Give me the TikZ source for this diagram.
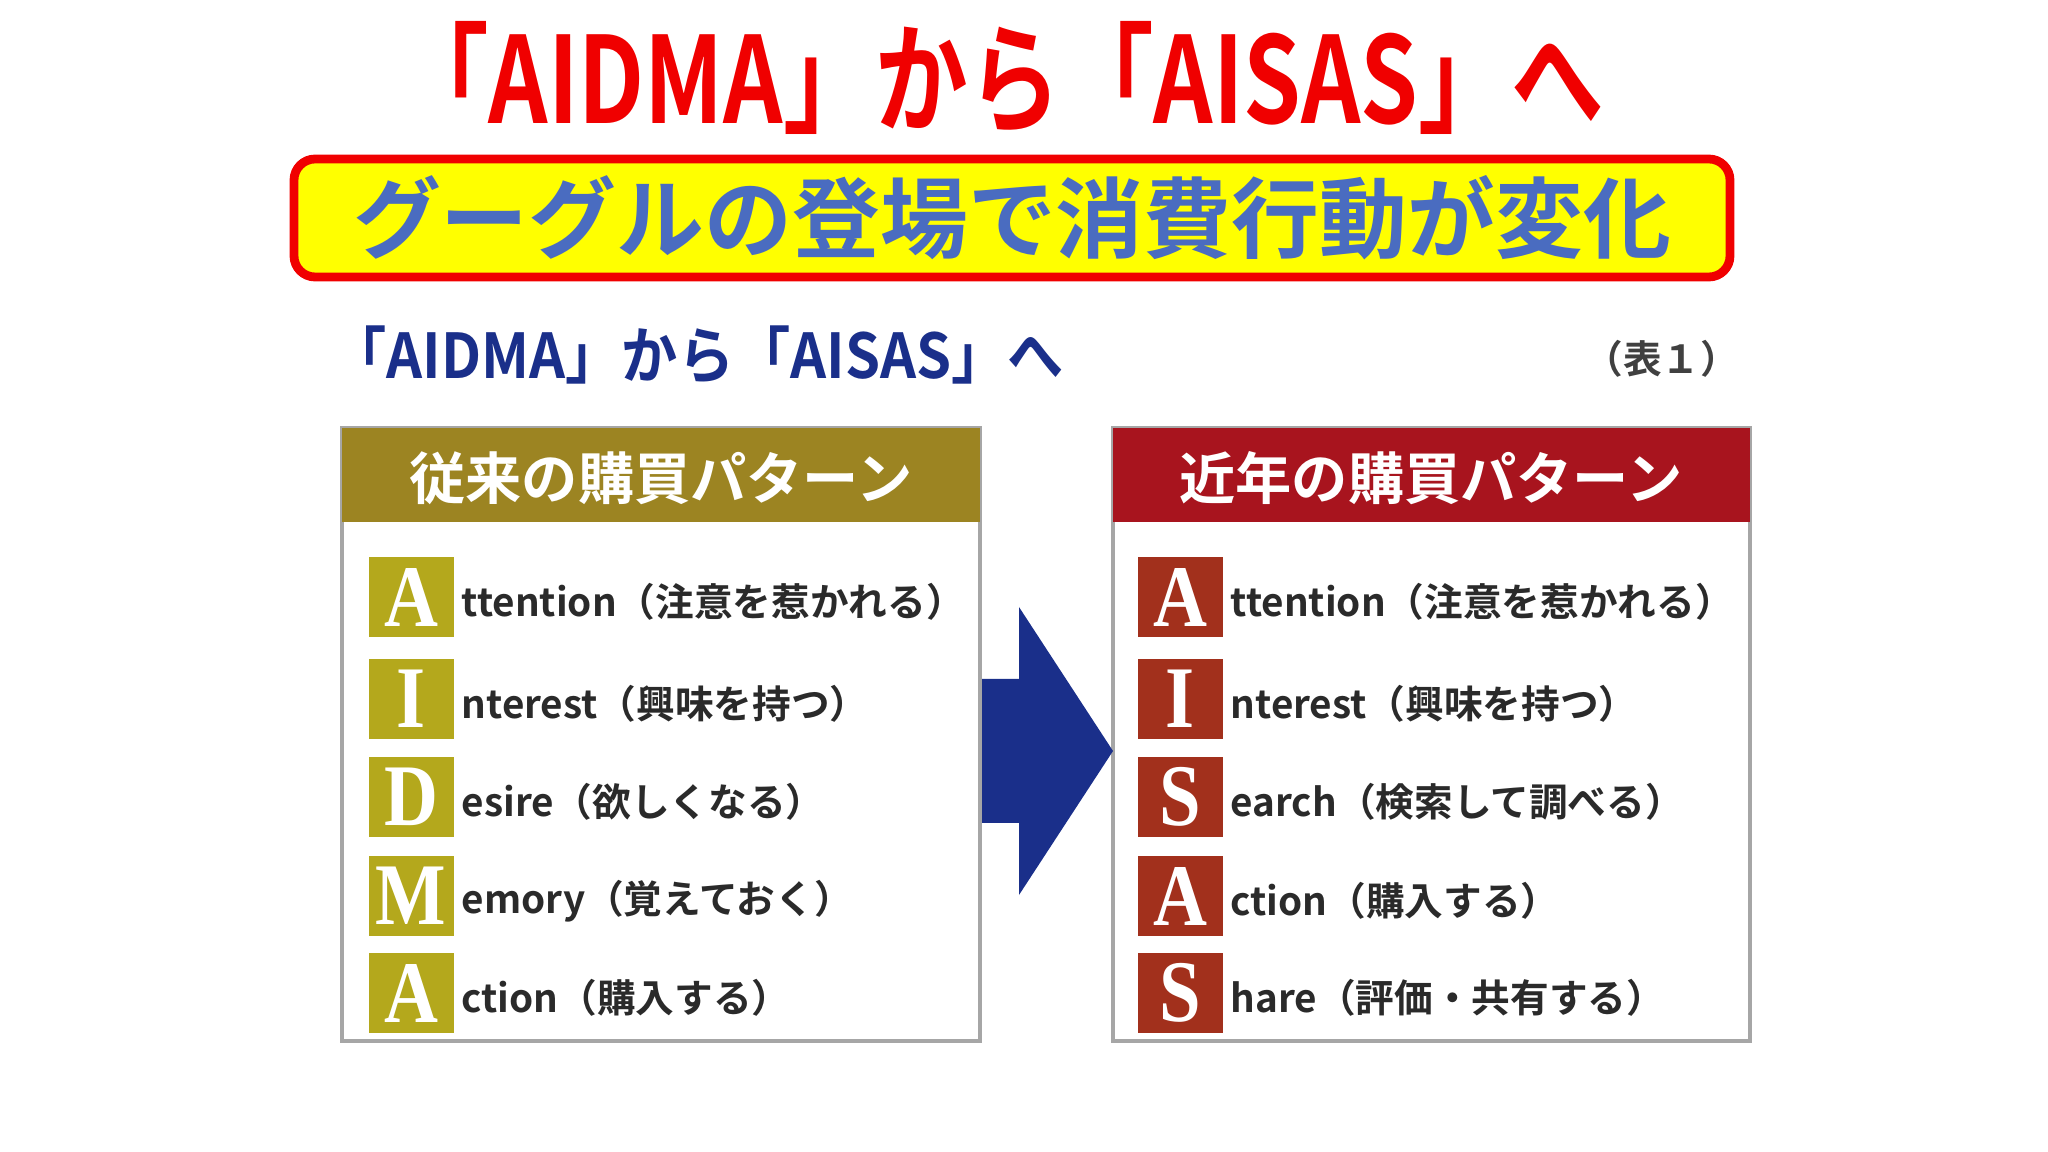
\documentclass[tikz,border=0pt]{standalone}
\usepackage{fontspec}
\setmainfont{Noto Sans CJK JP}[BoldFont={* Bold}]
\newfontfamily\lserif{Liberation Serif}
\definecolor{ttlred}{HTML}{F00000}
\definecolor{ylw}{HTML}{FFFF00}
\definecolor{bluet}{HTML}{4A6CC0}
\definecolor{navy}{HTML}{1A2F8A}
\definecolor{olivehd}{HTML}{9C8422}
\definecolor{oliveL}{HTML}{B4A81C}
\definecolor{redhd}{HTML}{A8141E}
\definecolor{redL}{HTML}{A2301C}
\definecolor{itemtx}{HTML}{2A2A2A}
\tikzset{
 panel/.style={draw=black!35, line width=1.2pt, fill=white},
 hdr/.style={text=white, font=\bfseries\fontsize{16}{16}\selectfont},
 letbox/.style={minimum width=0.85cm, minimum height=0.8cm, inner sep=0pt, text=white, font=\lserif\bfseries\fontsize{25}{25}\selectfont},
 item/.style={anchor=west, text=itemtx, font=\bfseries\fontsize{11}{12}\selectfont, inner sep=0pt}
}
\begin{document}
\begin{tikzpicture}[x=1cm,y=-1cm]
\useasboundingbox (0,0) rectangle (20.48,11.52);
\node (title) at (10.0,0.78) {\textcolor{ttlred}{\bfseries\fontsize{31}{31}\selectfont\scalebox{0.85}[1.1]{「AIDMA」から「AISAS」へ}}};
\node[draw=ttlred, line width=2.5pt, fill=ylw, rounded corners=6pt, minimum width=14.36cm, minimum height=1.18cm, text=bluet, font=\bfseries\fontsize{25}{25}\selectfont] (sub) at (10.12,2.18) {グーグルの登場で消費行動が変化};
\node[anchor=west, text=navy, font=\bfseries\fontsize{16}{16}\selectfont, inner sep=0pt] (h) at (3.30,3.55) {\scalebox{1}[1.1]{「AIDMA」から「AISAS」へ}};
\node[anchor=east, text=black!75, font=\bfseries\fontsize{11}{11}\selectfont, inner sep=0pt] (t1) at (17.40,3.59) {（表１）};
% panels
\draw[panel] (3.42,4.28) rectangle (9.80,10.41);
\fill[olivehd] (3.42,4.28) rectangle (9.80,5.22);
\node[hdr] (lh) at (6.61,4.78) {従来の購買パターン};
\draw[panel] (11.13,4.28) rectangle (17.50,10.41);
\fill[redhd] (11.13,4.28) rectangle (17.50,5.22);
\node[hdr] (rh) at (14.31,4.78) {近年の購買パターン};
% arrow
\fill[navy] (9.82,6.79) -- (10.19,6.79) -- (10.19,6.07) -- (11.13,7.51) -- (10.19,8.95) -- (10.19,8.23) -- (9.82,8.23) -- cycle;
% items
\foreach \y/\L/\t [count=\i] in {5.97/A/ttention（注意を惹かれる）,6.99/I/nterest（興味を持つ）,7.97/D/esire（欲しくなる）,8.96/M/emory（覚えておく）,9.93/A/ction（購入する）}{
 \node[letbox, fill=oliveL] (l\i) at (4.11,\y) {\scalebox{0.85}[1]{\L}};
 \node[item] (lt\i) at (4.61,\y+0.05) {\t};
}
\foreach \y/\L/\t [count=\i] in {5.97/A/ttention（注意を惹かれる）,6.99/I/nterest（興味を持つ）,7.97/S/earch（検索して調べる）,8.96/A/ction（購入する）,9.93/S/hare（評価・共有する）}{
 \node[letbox, fill=redL] (r\i) at (11.80,\y) {\scalebox{0.85}[1]{\L}};
 \node[item] (rt\i) at (12.30,\y+0.05) {\t};
}
\end{tikzpicture}
\end{document}
